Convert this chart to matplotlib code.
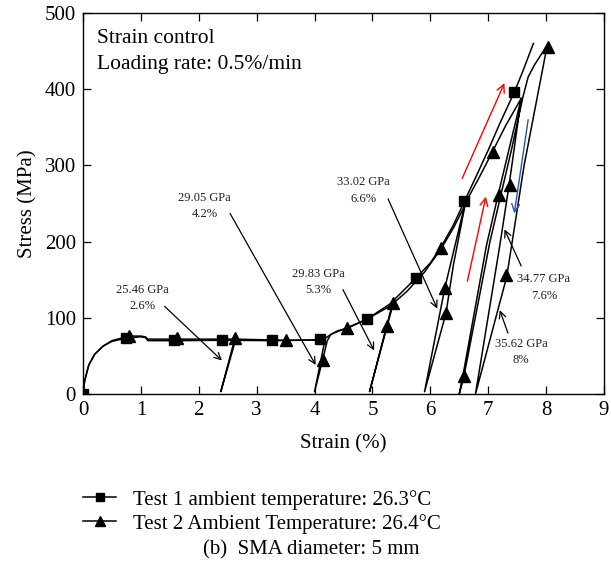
import matplotlib
matplotlib.use("Agg")
import matplotlib.pyplot as plt
from matplotlib.lines import Line2D

# Test 1 (squares) - monotonic loading curve
t1_strain = [0, 0.03, 0.1, 0.2, 0.35, 0.5, 0.75, 1.0, 1.08, 1.12, 1.6, 2.4, 3.3, 4.1,
             4.2, 4.3, 4.5, 4.9, 5.3, 5.75, 6.0, 6.2, 6.4, 6.59, 6.8, 7.0, 7.2, 7.45, 7.6, 7.78]
t1_stress = [0, 18, 38, 52, 63, 69, 73.5, 75, 74, 70, 70, 70.5, 70, 71,
             74, 79, 85, 98, 118, 152, 172, 195, 222, 253, 287, 320, 355, 396, 424, 460]
t1_mark_strain = [0, 0.74, 1.58, 2.40, 3.26, 4.10, 4.90, 5.75, 6.59, 7.45]
t1_mark_stress = [0, 73.5, 70.4, 71.3, 70.4, 72.2, 98.9, 152, 253, 396]

# Test 2 (triangles) - loading with unloading/reloading loops
t2_strain = [0, 0.03, 0.1, 0.2, 0.35, 0.5, 0.79, 1.0, 1.08, 1.12, 1.63, 2.62,
             2.38, 2.64, 3.5, 4.18,
             4.0, 4.14, 4.22, 4.28, 4.4, 4.56, 4.9, 5.34,
             4.95, 5.25, 5.36, 5.6, 5.9, 6.19, 6.4, 6.6,
             6.4, 6.27, 5.9, 6.25, 6.6, 6.85, 7.06, 7.3, 7.57,
             7.17, 6.97, 6.56, 6.5,
             6.58, 7.03, 7.4, 7.6, 7.69, 7.8, 8.02,
             7.62, 7.32, 6.78,
             7.2, 7.36, 7.57]
t2_stress = [0, 18, 38, 52, 63, 70, 76, 76, 75, 72, 72, 72,
             3, 72, 70.5, 71,
             3, 45, 70, 78, 83, 86, 98, 117,
             3, 88, 119, 135, 160, 191, 218, 248,
             170, 106, 3, 139, 250, 285, 316, 352, 388,
             261, 195, 23, 0,
             23, 200, 320, 390, 416, 432, 458,
             300, 154, 0,
             195, 274, 388]
t2_mark_strain = [0, 0.79, 1.63, 2.63, 3.50, 4.14, 4.56, 5.25, 5.36, 6.19, 6.25, 6.27,
                  6.58, 7.08, 7.19, 7.37, 7.31, 8.03]
t2_mark_stress = [0, 76.5, 73.5, 73.5, 71.3, 45, 86.6, 88.8, 119, 191.6, 139, 106,
                  23, 318, 261.6, 274.7, 155.7, 456]

# modulus labels: text, text position, arrow start, arrow tip
mod_labels = ["25.46 GPa\n2.6%", "29.05 GPa\n4.2%", "29.83 GPa\n5.3%",
              "33.02 GPa\n6.6%", "34.77 GPa\n7.6%", "35.62 GPa\n8%"]
mod_text_xy = [(1.02, 126), (2.10, 247), (4.06, 147), (4.84, 267), (7.96, 140), (7.57, 55)]
mod_start_xy = [(1.41, 115), (2.54, 237), (4.49, 137), (5.27, 256), (7.57, 168), (7.34, 80)]
mod_tip_xy = [(2.40, 44), (4.02, 38), (5.03, 57), (6.12, 112), (7.28, 216), (7.20, 110)]

# direction arrows (loading red, unloading blue)
dir_start = [(6.55, 283), (6.64, 148), (7.69, 360)]
dir_end = [(7.28, 408), (6.96, 259), (7.45, 237)]
dir_color = ["red", "red", "#3050b0"]

plt.rcParams["font.family"] = ["Liberation Serif", "DejaVu Serif"]
plt.rcParams["font.size"] = 15

fig = plt.figure(figsize=(6.11, 5.75), dpi=100)
ax = fig.add_axes([83 / 611, 1 - 394 / 575, (604 - 83) / 611, (394 - 13) / 575])

ax.plot(t1_strain, t1_stress, color="k", lw=1.1)
ax.plot(t2_strain, t2_stress, color="k", lw=1.1)
ax.plot(t1_mark_strain, t1_mark_stress, ls="none", marker="s", ms=6.5, color="k")
ax.plot(t2_mark_strain, t2_mark_stress, ls="none", marker="^", ms=8, color="k")

for txt, txy, sxy, pxy in zip(mod_labels, mod_text_xy, mod_start_xy, mod_tip_xy):
    ax.text(txy[0], txy[1], txt, ha="center", va="center", fontsize=9,
            linespacing=1.5, color="#222222")
    ax.annotate("", xy=pxy, xytext=sxy,
                arrowprops=dict(arrowstyle="->", lw=0.9, color="k",
                                shrinkA=0, shrinkB=0, mutation_scale=12))

for s, e, c in zip(dir_start, dir_end, dir_color):
    ax.annotate("", xy=e, xytext=s,
                arrowprops=dict(arrowstyle="->", lw=1.0, color=c,
                                shrinkA=0, shrinkB=0, mutation_scale=14))

ax.text(0.027, 0.932, "Strain control", transform=ax.transAxes, fontsize=15.5, va="center")
ax.text(0.027, 0.866, "Loading rate: 0.5%/min", transform=ax.transAxes, fontsize=15.5, va="center")

ax.set_xlim(0, 9)
ax.set_ylim(0, 500)
ax.set_xticks(range(0, 10))
ax.set_yticks(range(0, 501, 100))
ax.tick_params(direction="in", top=True, right=True, length=6, width=0.9, labelsize=15, pad=5)
for sp in ax.spines.values():
    sp.set_linewidth(1.0)
ax.set_xlabel("Strain (%)", fontsize=15, labelpad=10)
ax.set_ylabel("Stress (MPa)", fontsize=15, labelpad=5)

handles = [Line2D([], [], color="k", lw=1.1, marker="s", ms=6),
           Line2D([], [], color="k", lw=1.1, marker="^", ms=7)]
fig.legend(handles, ["Test 1 ambient temperature: 26.3°C",
                     "Test 2 Ambient Temperature: 26.4°C"],
           loc="upper left", bbox_to_anchor=(0.122, 0.163), frameon=False,
           fontsize=15, handlelength=1.6, handletextpad=0.8, labelspacing=0.2,
           borderaxespad=0)
fig.text(0.51, 0.044, "(b)  SMA diameter: 5 mm", ha="center", va="center", fontsize=15)

fig.savefig("out.png", dpi=100)
